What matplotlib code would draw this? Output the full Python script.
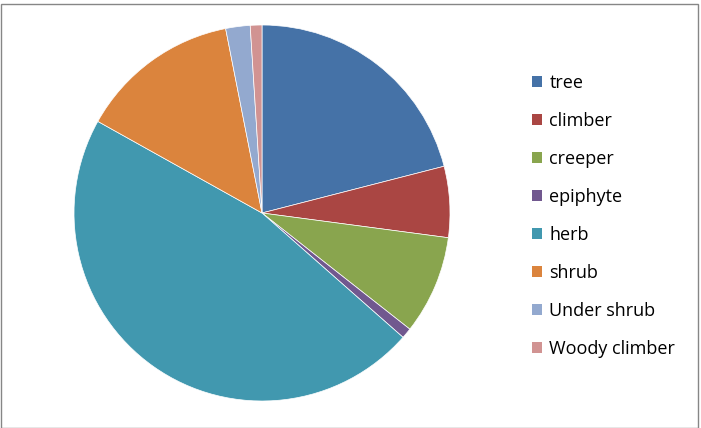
import matplotlib.pyplot as plt
from matplotlib.patches import Rectangle, Patch

labels = ['tree', 'climber', 'creeper', 'epiphyte', 'herb', 'shrub',
          'Under shrub', 'Woody climber']
values = [21.0, 6.1, 8.5, 0.9, 46.6, 13.8, 2.1, 1.0]
colors = ['#4572A7', '#AA4643', '#89A54E', '#71588F', '#4198AF', '#DB843D',
          '#93A9CF', '#D19392']

W, H = 701, 428
fig = plt.figure(figsize=(W / 100, H / 100), dpi=100)

# pie centred at (262, 213) px, radius 188 px
cx, cy, r = 262, 213, 188
ax = fig.add_axes([(cx - r) / W, (H - cy - r) / H, 2 * r / W, 2 * r / H])
ax.pie(values, colors=colors, startangle=90, counterclock=False, radius=1,
       wedgeprops=dict(linewidth=0.5, edgecolor='white'))
ax.set_xlim(-1, 1)
ax.set_ylim(-1, 1)
ax.set_aspect('equal')

# legend
handles = [Patch(facecolor=c, edgecolor='none') for c in colors]
fig.legend(handles, labels, loc='upper left',
           bbox_to_anchor=(532 / W, 1 - 74 / H), frameon=False,
           prop={'family': 'Open Sans', 'size': 13},
           handlelength=0.58, handleheight=0.58, handletextpad=0.38,
           labelspacing=1.105, borderaxespad=0, borderpad=0)

# chart border
fig.patches.append(Rectangle((0.5 / W, 0.5 / H), 1 - 4 / W, 1 - 4 / H,
                             transform=fig.transFigure, fill=False,
                             edgecolor='#868686', linewidth=1))

fig.savefig('out.png', dpi=100)
